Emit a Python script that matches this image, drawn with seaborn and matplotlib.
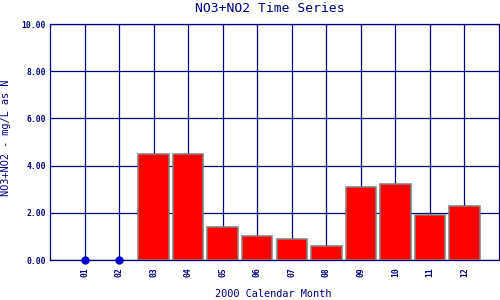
import matplotlib
matplotlib.use("Agg")
import matplotlib.pyplot as plt
import seaborn as sns
import pandas as pd
import numpy as np

months = ["01", "02", "03", "04", "05", "06", "07", "08", "09", "10", "11", "12"]
values = [0.0, 0.0, 4.5, 4.5, 1.4, 1.0, 0.88, 0.58, 3.08, 3.2, 1.9, 2.28]
yticks = [0, 2, 4, 6, 8, 10]
ytick_labels = ["0.00", "2.00", "4.00", "6.00", "8.00", "10.00"]

title = "NO3+NO2 Time Series"
xlabel = "2000 Calendar Month"
ylabel = "NO3+NO2 - mg/L as N"

NAVY = "#000080"

sns.set_theme(style="white")
plt.rcParams["font.family"] = ["DejaVu Sans Mono", "DejaVu Sans"]

df = pd.DataFrame({"month": months, "value": values})
df["bar"] = df["value"].where(df["value"] > 0, np.nan)
zeros = df[df["value"] == 0]

fig = plt.figure(figsize=(5, 3), dpi=100)
ax = fig.add_axes([0.1, 40 / 300, 449 / 500, 236 / 300])

sns.barplot(data=df, x="month", y="bar", order=months, ax=ax,
            color="#FF0000", edgecolor="#808080", linewidth=1.1,
            width=0.88, saturation=1, zorder=3)
ax.scatter([months.index(m) for m in zeros["month"]], zeros["value"],
           s=36, color="#0000C8", zorder=5, clip_on=False, linewidths=0)

ax.set_xlim(-1, 12)
ax.set_ylim(0, 10)
ax.set_yticks(yticks)
ax.set_yticklabels(ytick_labels)
ax.set_axisbelow(True)
ax.grid(True, color=NAVY, linewidth=0.9)
for s in ax.spines.values():
    s.set_color(NAVY)
    s.set_linewidth(0.9)
ax.tick_params(axis="both", length=0, colors=NAVY, labelsize=5.8)
ax.tick_params(axis="y", pad=3)
ax.tick_params(axis="x", pad=5)
for lab in ax.get_yticklabels():
    lab.set_fontweight("bold")
for lab in ax.get_xticklabels():
    lab.set_rotation(90)
    lab.set_fontweight("bold")

ax.set_xlabel(xlabel, fontsize=7.4, color=NAVY)
ax.set_ylabel(ylabel, fontsize=7.4, color=NAVY)
ax.xaxis.set_label_coords((273 - 50) / 449, (260 - 294) / 236)
ax.xaxis.label.set_va("center")
ax.yaxis.set_label_coords((6 - 50) / 449, (260 - 138) / 236)
ax.yaxis.label.set_va("center")

fig.text(270 / 500, 1 - 8 / 300, title, ha="center", va="center",
         fontsize=9.4, color=NAVY)

fig.savefig("out.png", dpi=100)
